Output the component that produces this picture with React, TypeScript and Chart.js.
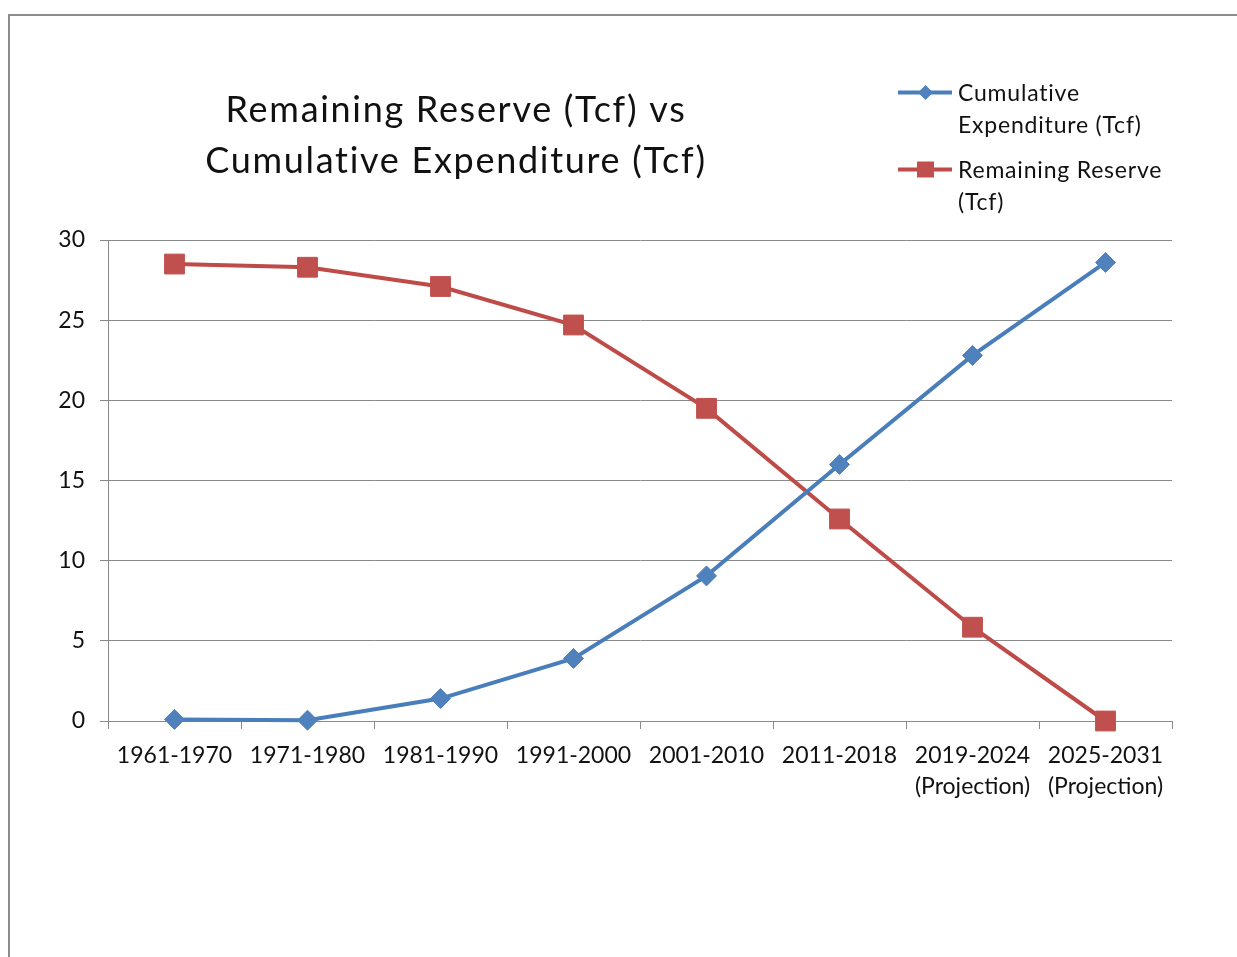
import React, { useEffect, useRef } from "react";
import { Chart, registerables } from "chart.js";

Chart.register(...registerables);

const categories: (string | string[])[] = [
  "1961-1970",
  "1971-1980",
  "1981-1990",
  "1991-2000",
  "2001-2010",
  "2011-2018",
  ["2019-2024", "(Projection)"],
  ["2025-2031", "(Projection)"],
];

const cumulativeExpenditure = [0.1, 0.05, 1.4, 3.9, 9.05, 16.0, 22.8, 28.6];
const remainingReserve = [28.5, 28.3, 27.1, 24.7, 19.5, 12.6, 5.85, 0];

const titleLines = ["Remaining Reserve (Tcf) vs", "Cumulative Expenditure (Tcf)"];
const seriesLabels = [
  ["Cumulative", "Expenditure (Tcf)"],
  ["Remaining Reserve", "(Tcf)"],
];

const BLUE = "#4A7EBB";
const BLUE_M = "#4F81BD";
const RED = "#BE4B48";
const RED_M = "#C0504D";
const GRID = "#8a8a8a";
const TEXT = "#111111";
const FONT = "Lato, 'Noto Sans', sans-serif";

const titlePlugin = {
  id: "customTitle",
  afterDraw(chart: any) {
    const ctx = chart.ctx;
    ctx.save();
    ctx.fillStyle = TEXT;
    ctx.font = `36px ${FONT}`;
    try {
      ctx.letterSpacing = "1.7px";
    } catch (e) {}
    ctx.textAlign = "center";
    ctx.textBaseline = "alphabetic";
    ctx.fillText(titleLines[0], 456, 122);
    ctx.fillText(titleLines[1], 456, 173);
    ctx.restore();
  },
};

const legendPlugin = {
  id: "customLegend",
  afterDraw(chart: any) {
    const ctx = chart.ctx;
    ctx.save();
    const items = [
      { y: 92.5, color: BLUE, marker: BLUE_M, shape: "diamond", lines: seriesLabels[0] },
      { y: 169.5, color: RED, marker: RED_M, shape: "square", lines: seriesLabels[1] },
    ];
    for (const it of items) {
      ctx.strokeStyle = it.color;
      ctx.lineWidth = 4;
      ctx.beginPath();
      ctx.moveTo(898, it.y);
      ctx.lineTo(952, it.y);
      ctx.stroke();
      ctx.fillStyle = it.marker;
      ctx.beginPath();
      if (it.shape === "diamond") {
        const r = 7.5;
        ctx.moveTo(925.5, it.y - r);
        ctx.lineTo(925.5 + r, it.y);
        ctx.lineTo(925.5, it.y + r);
        ctx.lineTo(925.5 - r, it.y);
        ctx.closePath();
      } else {
        ctx.rect(917, it.y - 8, 17, 16);
      }
      ctx.fill();
      ctx.fillStyle = TEXT;
      ctx.font = `23px ${FONT}`;
      try {
        ctx.letterSpacing = "0.8px";
      } catch (e) {}
      ctx.textAlign = "left";
      ctx.textBaseline = "alphabetic";
      ctx.fillText(it.lines[0], 958, it.y + 8);
      ctx.fillText(it.lines[1], 958, it.y + 40);
      try {
        ctx.letterSpacing = "0px";
      } catch (e) {}
    }
    ctx.restore();
  },
};

export default function App() {
  const ref = useRef<HTMLCanvasElement | null>(null);
  useEffect(() => {
    if (!ref.current) return;
    const chart = new Chart(ref.current, {
      type: "line",
      data: {
        labels: categories,
        datasets: [
          {
            label: "Cumulative Expenditure (Tcf)",
            data: cumulativeExpenditure,
            borderColor: BLUE,
            backgroundColor: BLUE_M,
            borderWidth: 4,
            pointStyle: "rectRot",
            pointRadius: 10,
            pointHoverRadius: 10,
            pointBackgroundColor: BLUE_M,
            pointBorderColor: BLUE_M,
            pointBorderWidth: 1,
            tension: 0,
            clip: false,
          },
          {
            label: "Remaining Reserve (Tcf)",
            data: remainingReserve,
            borderColor: RED,
            backgroundColor: RED_M,
            borderWidth: 4,
            pointStyle: "rect",
            pointRadius: 14,
            pointHoverRadius: 14,
            pointBackgroundColor: RED_M,
            pointBorderColor: RED_M,
            pointBorderWidth: 1,
            tension: 0,
            clip: false,
          },
        ],
      },
      options: {
        responsive: false,
        animation: false,
        devicePixelRatio: 1,
        layout: { padding: { top: 240, left: 0, right: 65, bottom: 136 } },
        plugins: {
          legend: { display: false },
          title: { display: false },
          tooltip: { enabled: false },
        },
        scales: {
          x: {
            type: "category",
            offset: true,
            grid: {
              display: true,
              offset: true,
              drawOnChartArea: false,
              drawTicks: true,
              tickLength: 8,
              color: GRID,
              lineWidth: 1,
            },
            border: { display: true, color: GRID, width: 1 },
            ticks: {
              autoSkip: false,
              maxRotation: 0,
              minRotation: 0,
              padding: 11,
              color: TEXT,
              font: { family: FONT, size: 23, lineHeight: "31px" },
            },
            afterFit(scale: any) {
              scale.height = 100;
            },
          },
          y: {
            min: 0,
            max: 30,
            ticks: {
              stepSize: 5,
              padding: 15,
              color: TEXT,
              font: { family: FONT, size: 23 },
            },
            grid: {
              color: GRID,
              lineWidth: 1,
              drawTicks: true,
              tickLength: 8,
            },
            border: { display: true, color: GRID, width: 1 },
            afterFit(scale: any) {
              scale.width = 108;
            },
          },
        },
      },
      plugins: [titlePlugin, legendPlugin],
    });
    return () => chart.destroy();
  }, []);

  return (
    <div
      style={{
        position: "absolute",
        left: 0,
        top: 0,
        width: 1237,
        height: 957,
        overflow: "hidden",
        background: "#ffffff",
      }}
    >
      <div
        style={{
          position: "absolute",
          left: 8,
          top: 14,
          width: 1400,
          height: 1100,
          borderLeft: "2px solid #8c8c8c",
          borderTop: "2px solid #8c8c8c",
        }}
      />
      <canvas
        ref={ref}
        width={1237}
        height={957}
        style={{ position: "absolute", left: 0, top: 0, width: 1237, height: 957 }}
      />
    </div>
  );
}
